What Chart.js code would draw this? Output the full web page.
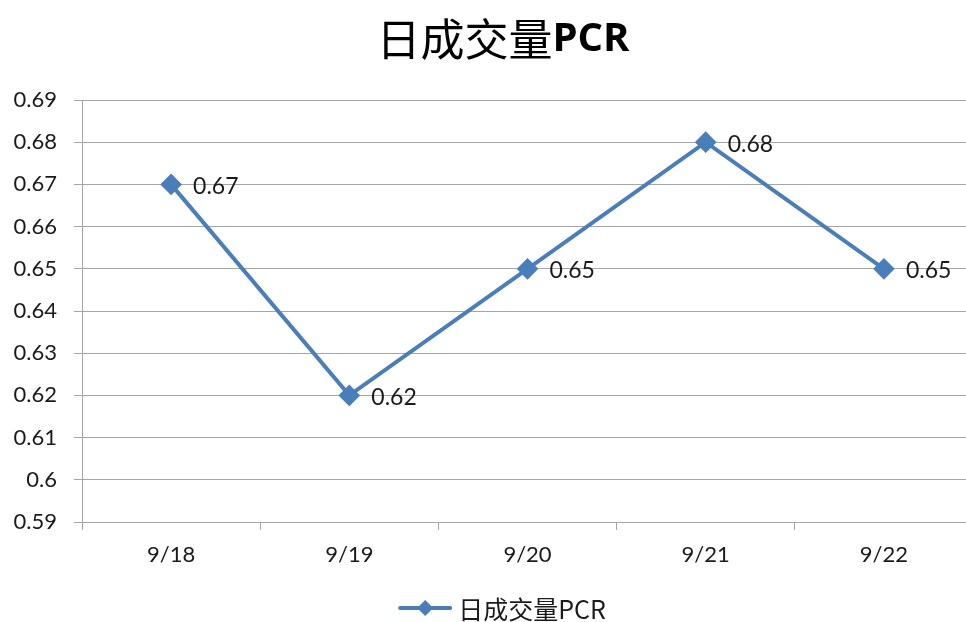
<!DOCTYPE html>
<html>
<head>
<meta charset="utf-8">
<script src="https://cdn.jsdelivr.net/npm/chart.js@4.4.0/dist/chart.umd.min.js"></script>
<style>
  html, body { margin: 0; padding: 0; background: #fff; overflow: hidden; }
  #wrap { width: 1004px; height: 622px; }
</style>
</head>
<body>
<div id="wrap"><canvas id="pcrChart"></canvas></div>
<script>
// chart data
const dates = ["9/18", "9/19", "9/20", "9/21", "9/22"];
const pcrValues = [0.67, 0.62, 0.65, 0.68, 0.65];
const seriesName = "日成交量PCR";
const titleCjk = "日成交量";
const titleLatin = "PCR";

const lineColor = "#4a7ebb";
const gridColor = "#a6a6a6";
const labelFont = "Lato, 'Noto Sans', sans-serif";
const cjkFont = "'Noto Sans CJK SC', sans-serif";

// title with a normal CJK part and a bold "PCR"
const mixedTitle = {
    id: "mixedTitle",
    afterDraw(chart) {
        const ctx = chart.ctx;
        ctx.save();
        ctx.fillStyle = "#000";
        ctx.textBaseline = "middle";
        ctx.textAlign = "left";
        const f1 = "44px " + cjkFont;
        const f2 = "bold 40px 'Open Sans', " + cjkFont;
        ctx.font = f1;
        const w1 = ctx.measureText(titleCjk).width;
        ctx.font = f2;
        const w2 = ctx.measureText(titleLatin).width;
        let x = 503 - (w1 + w2) / 2;
        const y = 39;
        ctx.font = f1;
        ctx.fillText(titleCjk, x, y);
        ctx.font = f2;
        ctx.fillText(titleLatin, x + w1, y + 1);
        ctx.restore();
    }
};

// bottom legend: line with diamond, then series name
const lineLegend = {
    id: "lineLegend",
    afterDraw(chart) {
        const ctx = chart.ctx;
        const y = 608;
        ctx.save();
        ctx.font = "25px " + cjkFont;
        const textW = ctx.measureText(seriesName).width;
        const markerW = 50, gap = 8;
        const x0 = 503 - (markerW + gap + textW) / 2;
        ctx.strokeStyle = lineColor;
        ctx.lineWidth = 4;
        ctx.lineCap = "round";
        ctx.beginPath();
        ctx.moveTo(x0, y);
        ctx.lineTo(x0 + markerW, y);
        ctx.stroke();
        const cx = x0 + markerW / 2;
        ctx.fillStyle = lineColor;
        ctx.beginPath();
        ctx.moveTo(cx, y - 8);
        ctx.lineTo(cx + 8, y);
        ctx.lineTo(cx, y + 8);
        ctx.lineTo(cx - 8, y);
        ctx.closePath();
        ctx.fill();
        ctx.fillStyle = "#1a1a1a";
        ctx.textBaseline = "middle";
        ctx.textAlign = "left";
        ctx.fillText(seriesName, x0 + markerW + gap, y + 1);
        ctx.restore();
    }
};

// draws the value next to each point
const valueLabels = {
    id: "valueLabels",
    afterDatasetsDraw(chart) {
        const ctx = chart.ctx;
        const meta = chart.getDatasetMeta(0);
        ctx.save();
        ctx.font = "23px " + labelFont;
        ctx.fillStyle = "#1a1a1a";
        ctx.textAlign = "left";
        ctx.textBaseline = "middle";
        meta.data.forEach((pt, i) => {
            ctx.fillText(pcrValues[i].toFixed(2), pt.x + 22, pt.y + 2);
        });
        ctx.restore();
    }
};

const ctx = document.getElementById("pcrChart").getContext("2d");
new Chart(ctx, {
    type: "line",
    data: {
        labels: dates,
        datasets: [{
            label: seriesName,
            data: pcrValues,
            borderColor: lineColor,
            backgroundColor: lineColor,
            borderWidth: 4,
            pointStyle: "rectRot",
            pointRadius: 8,
            pointHoverRadius: 8,
            tension: 0,
        }]
    },
    options: {
        responsive: true,
        maintainAspectRatio: false,
        animation: false,
        events: [],
        layout: { padding: { left: 0, right: 31, top: 0, bottom: 29 } },
        scales: {
            x: {
                offset: true,
                afterFit(scale) { scale.height = 71; },
                grid: {
                    offset: true,
                    drawOnChartArea: false,
                    drawTicks: true,
                    tickLength: 8,
                    color: gridColor,
                },
                border: { display: true, color: gridColor, width: 1 },
                ticks: {
                    color: "#1a1a1a",
                    font: { family: labelFont, size: 22 },
                    padding: 12,
                    maxRotation: 0,
                },
            },
            y: {
                min: 0.59,
                max: 0.69,
                afterFit(scale) { scale.width = 82; },
                grid: {
                    color: gridColor,
                    tickLength: 8,
                },
                border: { display: true, color: gridColor, width: 1 },
                ticks: {
                    stepSize: 0.01,
                    color: "#1a1a1a",
                    font: { family: labelFont, size: 22 },
                    padding: 17,
                    callback: v => parseFloat(v.toFixed(2)).toString(),
                },
            }
        },
        plugins: {
            title: {
                display: true,
                text: "日成交量PCR",
                color: "rgba(0,0,0,0)",
                font: { family: cjkFont, size: 40, weight: "normal" },
                padding: { top: 18, bottom: 34 },
            },
            legend: { display: false },
            tooltip: { enabled: false },
        }
    },
    plugins: [valueLabels, mixedTitle, lineLegend]
});
</script>
</body>
</html>
